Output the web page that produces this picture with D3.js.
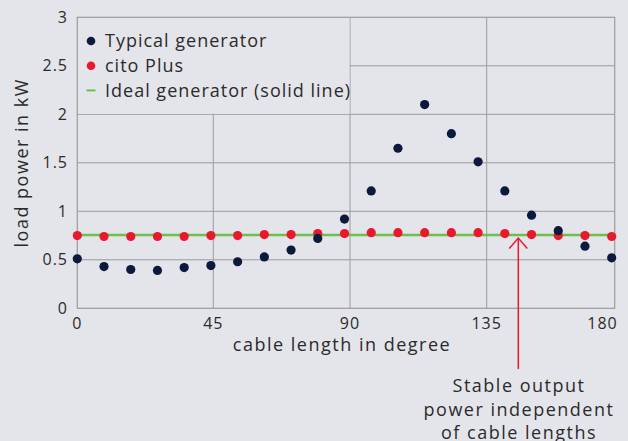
<!DOCTYPE html>
<html>
<head>
<meta charset="utf-8">
<script src="https://cdn.jsdelivr.net/npm/d3@7"></script>
<style>
  html, body { margin: 0; padding: 0; background: #e4e5ea; }
  svg { display: block; }
  text { font-family: "Open Sans", Lato, sans-serif; fill: #2b2b2b; letter-spacing: 1.5px; }
  text.tick { letter-spacing: 1px; }
  text.legend { letter-spacing: 1px; }
</style>
</head>
<body>
<div id="chart"></div>
<script>
// ---------- data ----------
const angles = [0, 9, 18, 27, 36, 45, 54, 63, 72, 81, 90, 99, 108, 117, 126, 135, 144, 153, 162, 171, 180];
const typical = [0.51, 0.43, 0.40, 0.39, 0.42, 0.44, 0.48, 0.53, 0.60, 0.72, 0.92, 1.21, 1.65, 2.10, 1.80, 1.51, 1.21, 0.96, 0.80, 0.64, 0.52];
const cito    = [0.75, 0.74, 0.74, 0.74, 0.74, 0.75, 0.75, 0.76, 0.76, 0.77, 0.77, 0.78, 0.78, 0.78, 0.78, 0.78, 0.77, 0.76, 0.75, 0.75, 0.74];
const ideal = 0.755;
const xTicks = [0, 45, 90, 135, 180];
const yTicks = [0, 0.5, 1, 1.5, 2, 2.5, 3];
const legendItems = [
  { label: "Typical generator", type: "dot", color: "#0b1a3c" },
  { label: "cito Plus", type: "dot", color: "#e8192c" },
  { label: "Ideal generator (solid line)", type: "line", color: "#6cbf4a" }
];
const noteLines = ["Stable output", "power independent", "of cable lengths"];

(() => {
  // ---------- layout ----------
  const W = 628, H = 441;
  const m = { left: 77.3, right: 614.7, top: 17.3, bottom: 308.3 };

  const svg = d3.select("#chart").append("svg")
    .attr("width", W).attr("height", H);

  // axis scale (gridlines / tick labels)
  const x = d3.scaleLinear().domain(xTicks).range([77.3, 213.3, 350, 486.7, 614.7]);
  // point positions (category-like spacing)
  const xp = d3.scalePoint().domain(angles).range([77.3, 611.7]);
  const y = d3.scaleLinear().domain([0, 3]).range([m.bottom, m.top]);

  const gridColor = "#9b9b9b";

  // gridlines
  svg.append("g").selectAll("line")
    .data(yTicks.slice(1, -1))
    .join("line")
    .attr("x1", m.left).attr("x2", m.right)
    .attr("y1", d => y(d)).attr("y2", d => y(d))
    .attr("stroke", gridColor).attr("stroke-width", 1);

  svg.append("g").selectAll("line")
    .data(xTicks.slice(1, -1))
    .join("line")
    .attr("x1", d => x(d)).attr("x2", d => x(d))
    .attr("y1", m.top).attr("y2", m.bottom)
    .attr("stroke", gridColor).attr("stroke-width", 1);

  // legend background hides grid under it
  svg.append("rect")
    .attr("x", m.left + 0.5).attr("y", m.top + 0.5)
    .attr("width", x(90) - m.left - 1).attr("height", y(2) - m.top - 1)
    .attr("fill", "#e4e5ea");

  // frame
  svg.append("rect")
    .attr("x", m.left).attr("y", m.top)
    .attr("width", m.right - m.left).attr("height", m.bottom - m.top)
    .attr("fill", "none").attr("stroke", gridColor).attr("stroke-width", 1.2);

  // tick labels
  svg.append("g").selectAll("text")
    .data(yTicks)
    .join("text")
    .attr("class", "tick")
    .attr("x", 68).attr("y", d => y(d))
    .attr("dy", "0.35em")
    .attr("text-anchor", "end")
    .attr("font-size", 16)
    .text(d => d);

  const lastX = xTicks[xTicks.length - 1];
  svg.append("g").selectAll("text")
    .data(xTicks)
    .join("text")
    .attr("class", "tick")
    .attr("x", d => d === lastX ? x(d) + 3 : x(d)).attr("y", 323)
    .attr("dy", "0.35em")
    .attr("text-anchor", d => d === lastX ? "end" : "middle")
    .attr("font-size", 16)
    .text(d => d);

  svg.append("text")
    .attr("x", 342).attr("y", 345)
    .attr("dy", "0.35em")
    .attr("text-anchor", "middle")
    .attr("font-size", 18)
    .text("cable length in degree");

  svg.append("text")
    .attr("transform", `translate(22,${(m.top + m.bottom) / 2}) rotate(-90)`)
    .attr("dy", "0.35em")
    .attr("text-anchor", "middle")
    .attr("font-size", 18)
    .text("load power in kW");

  // ideal line
  svg.append("line")
    .attr("x1", m.left).attr("x2", m.right)
    .attr("y1", y(ideal)).attr("y2", y(ideal))
    .attr("stroke", legendItems[2].color).attr("stroke-width", 2.5);

  // points
  svg.append("g").selectAll("circle")
    .data(angles.map((a, i) => ({ a, v: cito[i] })))
    .join("circle")
    .attr("cx", d => xp(d.a)).attr("cy", d => y(d.v))
    .attr("r", 4.6)
    .attr("fill", legendItems[1].color);

  svg.append("g").selectAll("circle")
    .data(angles.map((a, i) => ({ a, v: typical[i] })))
    .join("circle")
    .attr("cx", d => xp(d.a)).attr("cy", d => y(d.v))
    .attr("r", 4.6)
    .attr("fill", legendItems[0].color);

  // legend
  const lg = svg.append("g").attr("transform", "translate(91,41)");
  legendItems.forEach((d, i) => {
    const g = lg.append("g").attr("transform", `translate(0,${i * 24.7})`);
    if (d.type === "dot") {
      g.append("circle").attr("r", 4.3).attr("fill", d.color);
    } else {
      g.append("line").attr("x1", -4.5).attr("x2", 4.5)
        .attr("stroke", d.color).attr("stroke-width", 2);
    }
    g.append("text").attr("class", "legend").attr("x", 14).attr("dy", "0.35em")
      .attr("font-size", 18).text(d.label);
  });

  // annotation arrow
  const arrowX = 518.3;
  const tipY = y(ideal) + 3;
  svg.append("line")
    .attr("x1", arrowX).attr("x2", arrowX)
    .attr("y1", 369).attr("y2", tipY)
    .attr("stroke", "#e8192c").attr("stroke-width", 1.5);
  svg.append("path")
    .attr("d", `M${arrowX - 9},${tipY + 10.5} L${arrowX},${tipY} L${arrowX + 9},${tipY + 10.5}`)
    .attr("fill", "none").attr("stroke", "#e8192c").attr("stroke-width", 1.5);

  svg.append("g").selectAll("text")
    .data(noteLines)
    .join("text")
    .attr("x", 519).attr("y", (d, i) => 386 + i * 23.4)
    .attr("dy", "0.35em")
    .attr("text-anchor", "middle")
    .attr("font-size", 18)
    .text(d => d);
})();
</script>
</body>
</html>
